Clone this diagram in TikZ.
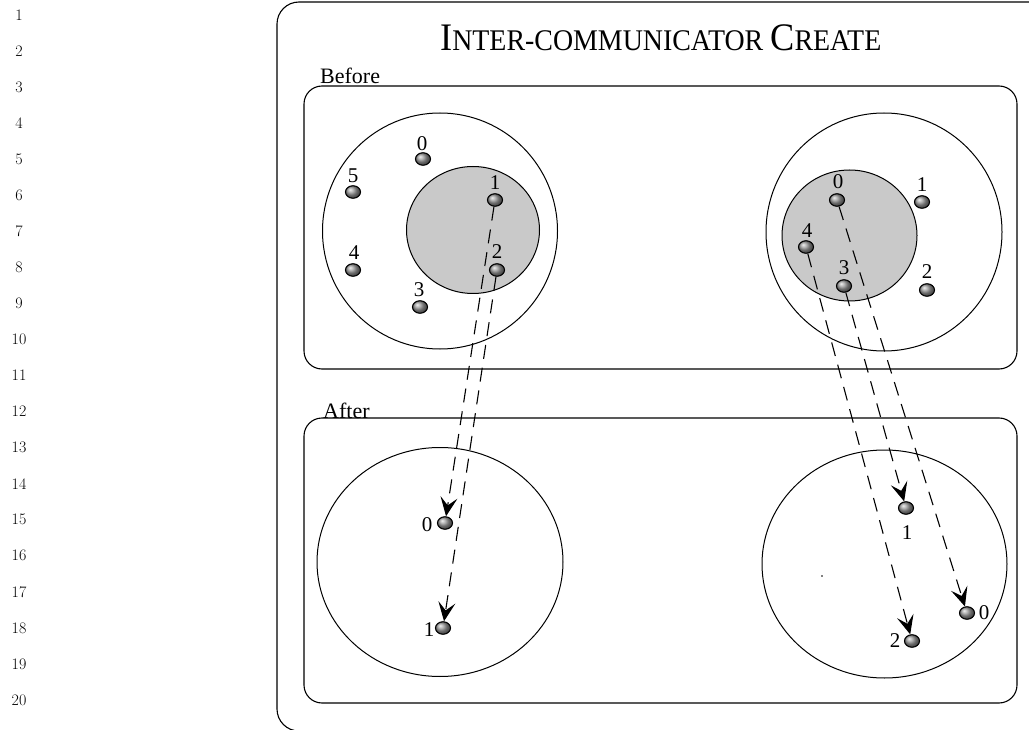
\documentclass[tikz,border=0pt]{standalone}
\usepackage{fontspec}
\usepackage{graphicx}
\newfontfamily\tms{Liberation Serif}
\usetikzlibrary{shapes.geometric,arrows.meta}
\begin{document}
\begin{tikzpicture}[x=1pt,y=-1pt,
  outerbox/.style={draw,line width=1.1pt,rounded corners=22pt},
  box/.style={draw,line width=1.1pt,rounded corners=18pt},
  ring/.style={draw,line width=1pt},
  core/.style={draw,line width=1pt,fill=gray!42},
  dot/.style={ellipse,draw,line width=1.1pt,minimum width=15pt,minimum height=12.5pt,inner sep=0pt,shading=ball,ball color=gray!80},
  lab/.style={font=\tms\fontsize{21}{21}\selectfont,inner sep=0pt},
  head/.style={font=\tms\fontsize{22}{22}\selectfont,inner sep=0pt,anchor=base west},
  move/.style={draw,line width=1.1pt,dash pattern=on 14pt off 9pt,-{Stealth[length=19pt,width=17pt,inset=8pt]}},
  lnum/.style={font=\fontsize{16}{16}\selectfont,inner sep=0pt}]
\useasboundingbox (0,0) rectangle (1029,730);
\clip (0,0) rectangle (1029,730);
% line numbers
\foreach \i in {1,...,20} \node[lnum] (ln\i) at (19,{15+36.05*(\i-1)}) {\i};
% outer frame
\draw[outerbox] (277,2) rectangle (1052,731);
\node[inner sep=0pt,anchor=base west] (title) at (440,51) {\scalebox{0.93}[1]{\tms\fontsize{39}{39}\selectfont I\fontsize{30}{30}\selectfont NTER-COMMUNICATOR \fontsize{39}{39}\selectfont C\fontsize{30}{30}\selectfont REATE}};
% panels
\node[head] (before) at (320,84) {Before};
\node[head] (after) at (323,418) {After};
\draw[box] (304,86) rectangle (1017,369);
\draw[box] (304,418) rectangle (1017,703);
% before, left group
\draw[ring] (440,231) ellipse (117.5 and 118);
\draw[core] (473,230) ellipse (66.5 and 63.5);
\node[dot] (L0) at (423,159) {};
\node[dot] (L5) at (353,192) {};
\node[dot] (L1) at (495,200) {};
\node[dot] (L4) at (353,270) {};
\node[dot] (L2) at (497,270) {};
\node[dot] (L3) at (420,307) {};
\node[lab] at (422,144) {0};
\node[lab] at (353,176) {5};
\node[lab] at (495,183) {1};
\node[lab] at (354,253) {4};
\node[lab] at (497,252) {2};
\node[lab] at (419,290) {3};
% before, right group
\draw[ring] (884,232) ellipse (118 and 119);
\draw[core] (849.5,235.5) ellipse (67.5 and 65.5);
\node[dot] (R0) at (837,200) {};
\node[dot] (R1) at (922,202) {};
\node[dot] (R4) at (806,247) {};
\node[dot] (R3) at (844,286) {};
\node[dot] (R2) at (927,290) {};
\node[lab] at (838,182) {0};
\node[lab] at (922,185) {1};
\node[lab] at (807,231) {4};
\node[lab] at (844,268) {3};
\node[lab] at (927,272) {2};
% after, left group
\draw[ring] (440,562) ellipse (123 and 114.5);
\node[dot] (A0) at (445,523) {};
\node[dot] (A1) at (443,628) {};
\node[lab] at (427,525) {0};
\node[lab] at (429,630) {1};
% after, right group
\draw[ring] (884.5,564) ellipse (122.5 and 114);
\node[dot] (B1) at (906,508) {};
\node[dot] (B0) at (967,613) {};
\node[dot] (B2) at (912,641) {};
\node[lab] at (907,533) {1};
\node[lab] at (984,613) {0};
\node[lab] at (895,641) {2};
\fill (822,576) circle (0.8pt);
% moves
\draw[move] (L1) -- (A0);
\draw[move] (L2) -- (A1);
\draw[move] (R0) -- (B0);
\draw[move] (R4) -- (B2);
\draw[move] (R3) -- (B1);
\end{tikzpicture}
\end{document}
